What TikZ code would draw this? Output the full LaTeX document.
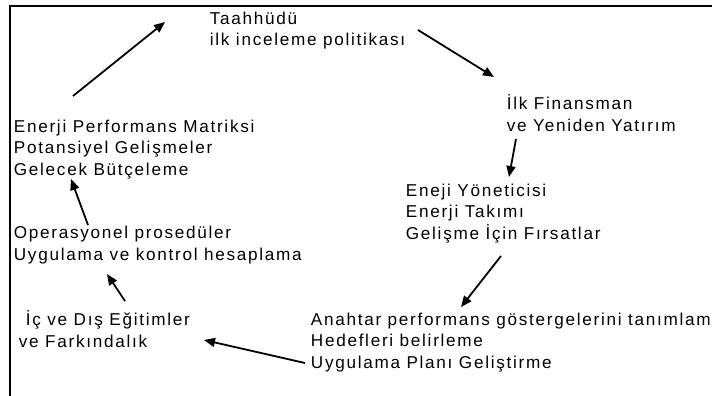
\documentclass[tikz,border=0pt]{standalone}
\usepackage{fontspec}
\setmainfont{Liberation Sans}[LetterSpace=10]
\usetikzlibrary{%
  arrows.meta,%
  positioning,%
  calc%
}

\begin{document}
\begin{tikzpicture}[
  x=1pt,y=-1pt,
  >={Triangle[length=11pt,width=9pt]},
  line width=1.8pt,
  txt/.style={anchor=base west,inner sep=0pt,align=left,
    font=\fontsize{17.15}{21.5}\selectfont},
]
\useasboundingbox (0,0) rectangle (712,396);
\clip (0,0) rectangle (712,396);

% frame
\draw (10,396) -- (10,6) -- (712,6);

% base = last line
\node[txt] (taahhut) at (209,46) {Taahhüdü\\ilk inceleme politikası};
\node[txt] (finans) at (506,131) {İlk Finansman\\ve Yeniden Yatırım};
\node[txt] (yonetici) at (405,239) {Eneji Yöneticisi\\Enerji Takımı\\Gelişme İçin Fırsatlar};
\node[txt] (anahtar) at (310,368) {Anahtar performans göstergelerini tanımlama\\Hedefleri belirleme\\Uygulama Planı Geliştirme};
\node[txt] (egitim) at (18,347) {\hspace{7pt}İç ve Dış Eğitimler\\ve Farkındalık};
\node[txt] (operasyon) at (13,260) {Operasyonel prosedüler\\Uygulama ve kontrol hesaplama};
\node[txt] (matriks) at (13,175) {Enerji Performans Matriksi\\Potansiyel Gelişmeler\\Gelecek Bütçeleme};

% arrow ends
\coordinate (a1s) at (73,96);   \coordinate (a1e) at (165,22);
\coordinate (a2s) at (418,30);  \coordinate (a2e) at (494,77);
\coordinate (a3s) at (516,139); \coordinate (a3e) at (509,177);
\coordinate (a4s) at (501,256); \coordinate (a4e) at (461,307);
\coordinate (a5s) at (305,363); \coordinate (a5e) at (204,340);
\coordinate (a6s) at (125,301); \coordinate (a6e) at (107,274);
\coordinate (a7s) at (88,225);  \coordinate (a7e) at (71,179);

\foreach \i in {1,...,7} {
  \draw [->] (a\i s) -- (a\i e);
}
\end{tikzpicture}
\end{document}
